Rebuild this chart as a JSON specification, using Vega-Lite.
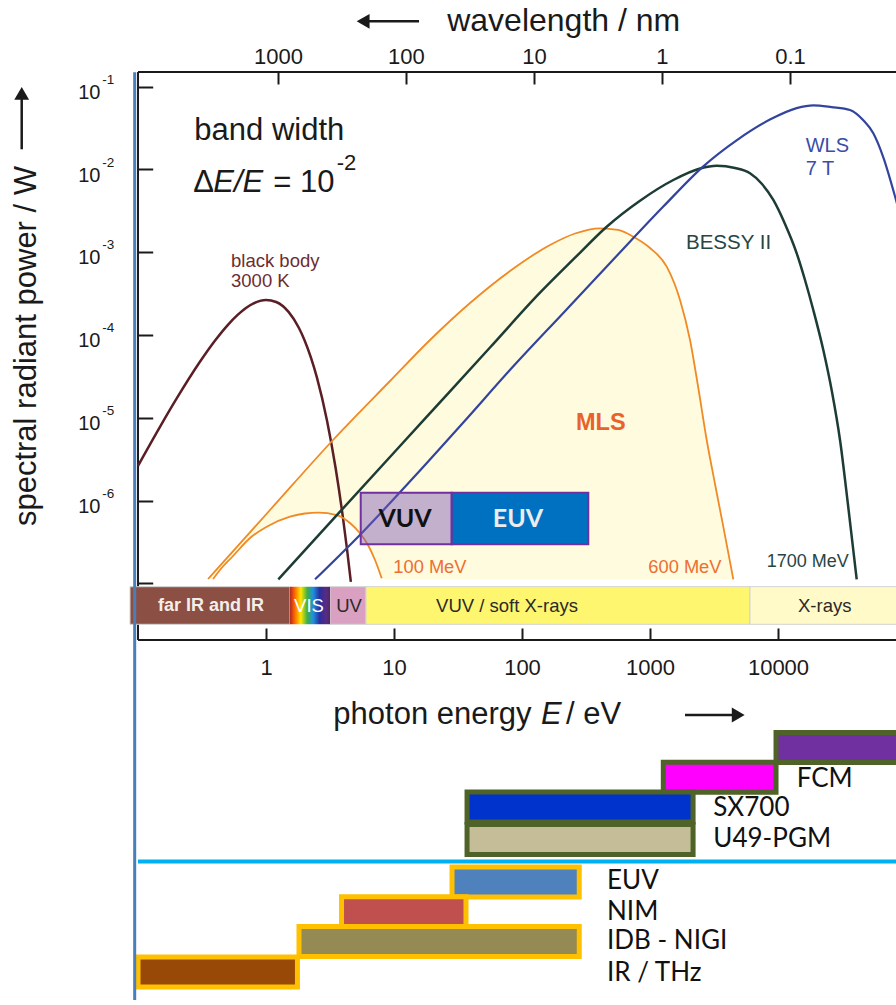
{
  "$schema": "https://vega.github.io/schema/vega-lite/v6.json",
  "width": 896,
  "height": 1005,
  "autosize": {"type": "fit", "contains": "padding"},
  "padding": 0,
  "background": "white",
  "config": {
    "view": {"stroke": null},
    "font": "Liberation Sans",
    "axis": {"labelFont": "Liberation Sans", "titleFont": "Liberation Sans"}
  },
  "datasets": {
    "blackbody": [
      {"E": 0.1, "P": 2.63e-6}, {"E": 0.15, "P": 7.99e-6}, {"E": 0.2, "P": 1.70e-5},
      {"E": 0.3, "P": 4.585e-5}, {"E": 0.4, "P": 8.58e-5}, {"E": 0.5, "P": 1.31e-4},
      {"E": 0.6, "P": 1.75e-4}, {"E": 0.8, "P": 2.411e-4}, {"E": 1.0, "P": 2.647e-4},
      {"E": 1.2, "P": 2.503e-4}, {"E": 1.5, "P": 1.901e-4}, {"E": 1.8, "P": 1.233e-4},
      {"E": 2.0, "P": 8.66e-5}, {"E": 2.5, "P": 3.057e-5}, {"E": 3.0, "P": 9.165e-6},
      {"E": 3.5, "P": 2.452e-6}, {"E": 4.0, "P": 6.05e-7}, {"E": 4.3, "P": 2.53e-7},
      {"E": 4.6, "P": 1.04e-7}
    ],
    "mls600": [
      {"E": 0.3523, "P": 1.128e-7}, {"E": 1.0746, "P": 7.687e-7}, {"E": 3.337, "P": 5.389e-6},
      {"E": 9.307, "P": 2.782e-5}, {"E": 19.11, "P": 8.703e-5}, {"E": 39.26, "P": 2.435e-4},
      {"E": 80.61, "P": 5.933e-4}, {"E": 165.5, "P": 1.223e-3}, {"E": 259.5, "P": 1.684e-3},
      {"E": 406.7, "P": 1.946e-3}, {"E": 562.3, "P": 1.857e-3}, {"E": 740.5, "P": 1.541e-3},
      {"E": 1000, "P": 1.125e-3}, {"E": 1351, "P": 6.687e-4}, {"E": 1716, "P": 2.649e-4},
      {"E": 2054, "P": 8.703e-5}, {"E": 2371, "P": 2.42e-5}, {"E": 2773, "P": 5.389e-6},
      {"E": 3220, "P": 1.585e-6}, {"E": 3738, "P": 4.831e-7}, {"E": 4476, "P": 1.118e-7}
    ],
    "mls100": [
      {"E": 0.3855, "P": 1.128e-7}, {"E": 0.4532, "P": 1.553e-7}, {"E": 0.5524, "P": 2.138e-7},
      {"E": 0.7499, "P": 3.527e-7}, {"E": 1.0127, "P": 4.831e-7}, {"E": 1.54, "P": 6.38e-7},
      {"E": 2.017, "P": 6.975e-7}, {"E": 2.563, "P": 7.133e-7}, {"E": 3.567, "P": 6.688e-7},
      {"E": 4.531, "P": 5.356e-7}, {"E": 5.425, "P": 4.02e-7}, {"E": 6.264, "P": 2.904e-7},
      {"E": 7.106, "P": 1.913e-7}, {"E": 8.014, "P": 1.15e-7}
    ],
    "bessy": [
      {"E": 1.248, "P": 1.118e-7}, {"E": 3.786, "P": 7.332e-7}, {"E": 11.14, "P": 4.56e-6},
      {"E": 27.38, "P": 2.089e-5}, {"E": 56.23, "P": 7.066e-5}, {"E": 138.2, "P": 3.245e-4},
      {"E": 259.5, "P": 8.59e-4}, {"E": 458.9, "P": 2.035e-3}, {"E": 835.5, "P": 4.195e-3},
      {"E": 1521, "P": 7.461e-3}, {"E": 2459, "P": 1.027e-2}, {"E": 3320, "P": 1.11e-2},
      {"E": 4614, "P": 1.042e-2}, {"E": 6043, "P": 8.989e-3}, {"E": 7499, "P": 6.676e-3},
      {"E": 9190, "P": 4.277e-3}, {"E": 11340, "P": 2.194e-3}, {"E": 14000, "P": 9.71e-4},
      {"E": 16250, "P": 4.62e-4}, {"E": 18870, "P": 2.006e-4}, {"E": 22590, "P": 6.589e-5},
      {"E": 26420, "P": 2.049e-5}, {"E": 30510, "P": 5.389e-6}, {"E": 35240, "P": 8.834e-7},
      {"E": 41190, "P": 1.118e-7}
    ],
    "wls": [
      {"E": 2.415, "P": 1.118e-7}, {"E": 5.757, "P": 4.24e-7}, {"E": 14.15, "P": 1.883e-6},
      {"E": 34.78, "P": 8.77e-6}, {"E": 85.51, "P": 4.188e-5}, {"E": 210.2, "P": 1.85e-4},
      {"E": 516.8, "P": 8.172e-4}, {"E": 1270, "P": 3.56e-3}, {"E": 2609, "P": 1.092e-2},
      {"E": 4748, "P": 2.251e-2}, {"E": 8646, "P": 4.004e-2}, {"E": 13970, "P": 5.513e-2},
      {"E": 18870, "P": 5.961e-2}, {"E": 26230, "P": 5.668e-2}, {"E": 36520, "P": 5.228e-2},
      {"E": 46390, "P": 3.928e-2}, {"E": 55530, "P": 2.735e-2}, {"E": 66470, "P": 1.403e-2},
      {"E": 83530, "P": 4.277e-3}, {"E": 98740, "P": 1.615e-3}
    ],
    "regions": [
      {"region": "far IR and IR", "E": 0.0866, "E2": 1.54, "P": 9.104e-8, "P2": 3.198e-8},
      {"region": "UV", "E": 3.162, "E2": 6.04, "P": 9.104e-8, "P2": 3.198e-8},
      {"region": "VUV / soft X-rays", "E": 6.04, "E2": 6043, "P": 9.104e-8, "P2": 3.198e-8},
      {"region": "X-rays", "E": 6043, "E2": 200000, "P": 9.104e-8, "P2": 3.198e-8}
    ],
    "beamlines": [
      {"beamline": "hard X-ray", "facility": "BESSY II", "E": 9650, "E2": 200000, "row": 0},
      {"beamline": "FCM", "facility": "BESSY II", "E": 1270, "E2": 9650, "row": 1},
      {"beamline": "SX700", "facility": "BESSY II", "E": 37.2, "E2": 2170, "row": 2},
      {"beamline": "U49-PGM", "facility": "BESSY II", "E": 37.2, "E2": 2170, "row": 3.1},
      {"beamline": "EUV", "facility": "MLS", "E": 28.4, "E2": 280, "row": 4.53},
      {"beamline": "NIM", "facility": "MLS", "E": 3.89, "E2": 36.5, "row": 5.53},
      {"beamline": "IDB - NIGI", "facility": "MLS", "E": 1.81, "E2": 280, "row": 6.53},
      {"beamline": "IR / THz", "facility": "MLS", "E": 0.1, "E2": 1.76, "row": 7.56}
    ]
  },
  "layer": [
    {
      "encoding": {
        "x": {"field": "E", "type": "quantitative", "scale": {"type": "log", "domain": [0.008351, 83527], "nice": false}, "axis": null},
        "y": {"field": "P", "type": "quantitative", "scale": {"type": "log", "domain": [8.043e-13, 1.1154], "nice": false}, "axis": null}
      },
      "resolve": {"axis": {"x": "independent", "y": "independent"}},
      "layer": [
        {
          "data": {"name": "mls600"},
          "mark": {"type": "area", "interpolate": "monotone", "color": "#FFFBDE"},
          "encoding": {
            "x": {
              "field": "E", "type": "quantitative",
              "scale": {"type": "log", "domain": [0.008351, 83527], "nice": false},
              "axis": {
                "orient": "bottom", "offset": -365, "values": [1, 10, 100, 1000, 10000], "format": "d",
                "domain": false, "grid": false, "ticks": true, "tickSize": -12, "tickWidth": 2, "tickColor": "#1a1a1a",
                "labelFontSize": 22, "labelColor": "#1a1a1a", "labelBaseline": "alphabetic", "labelPadding": 46,
                "labelFlush": false, "labelOverlap": false, "title": null
              }
            },
            "y": {
              "field": "P", "type": "quantitative",
              "scale": {"type": "log", "domain": [8.043e-13, 1.1154], "nice": false},
              "axis": {
                "orient": "left", "offset": -137.7, "values": [0.1, 0.01, 0.001, 0.0001, 0.00001, 0.000001, 0.0000001],
                "labelExpr": "datum.value < 5e-7 ? '' : '10'",
                "domain": false, "grid": false, "ticks": true, "tickSize": -15, "tickWidth": 2, "tickColor": "#1a1a1a",
                "labelFontSize": 20, "labelColor": "#1a1a1a", "labelAlign": "right", "labelBaseline": "alphabetic",
                "labelOffset": 11.6, "labelPadding": 52.7, "labelFlush": false, "labelOverlap": false,
                "title": "spectral radiant power / W", "titleFontSize": 31, "titleFontWeight": "normal", "titleColor": "#1a1a1a",
                "titleAngle": 270, "titleAlign": "center", "titleBaseline": "middle", "titleX": -111.7, "titleY": 345.5
              }
            },
            "y2": {"datum": 1.118e-7}
          }
        },
        {
          "data": {"name": "mls100"},
          "mark": {"type": "area", "interpolate": "monotone", "color": "white"},
          "encoding": {
            "x": {
              "field": "E", "type": "quantitative",
              "scale": {"type": "log", "domain": [0.008351, 83527], "nice": false},
              "axis": {
                "orient": "top", "offset": -72, "values": [1.23984, 12.3984, 123.984, 1239.84, 12398.4],
                "labelExpr": "format(1239.84 / datum.value, '.2~r')",
                "domain": false, "grid": false, "ticks": true, "tickSize": -12, "tickWidth": 2, "tickColor": "#1a1a1a",
                "labelFontSize": 22, "labelColor": "#1a1a1a", "labelBaseline": "alphabetic", "labelPadding": 20.7,
                "labelFlush": false, "labelOverlap": false,
                "title": "wavelength / nm", "titleFontSize": 32, "titleFontWeight": "normal", "titleColor": "#1a1a1a",
                "titleAlign": "left", "titleBaseline": "alphabetic", "titleX": 446.7, "titleY": -41.3
              }
            },
            "y": {
              "field": "P", "type": "quantitative",
              "scale": {"type": "log", "domain": [8.043e-13, 1.1154], "nice": false},
              "axis": {
                "orient": "left", "offset": -137.7, "values": [0.1, 0.01, 0.001, 0.0001, 0.00001, 0.000001],
                "labelExpr": "'-' + format(-round(log(datum.value) / LN10), 'd')",
                "domain": false, "grid": false, "ticks": false,
                "labelFontSize": 13.5, "labelColor": "#1a1a1a", "labelAlign": "left", "labelBaseline": "alphabetic",
                "labelOffset": -3.4, "labelPadding": 36, "labelFlush": false, "labelOverlap": false, "title": null
              }
            },
            "y2": {"datum": 1.118e-7}
          }
        },
        {
          "data": {"values": [
            {"E": 0.1, "E2": 200000, "P": 0.1505, "P2": 0.1505},
            {"E": 0.1, "E2": 0.1, "P": 0.1505, "P2": 2.066e-8},
            {"E": 0.1, "E2": 200000, "P": 2.066e-8, "P2": 2.066e-8}
          ]},
          "mark": {"type": "rule", "color": "#1a1a1a", "strokeWidth": 2, "clip": true},
          "encoding": {"x2": {"field": "E2"}, "y2": {"field": "P2"}}
        },
        {
          "data": {"values": [{"P": 0.1}, {"P": 0.01}, {"P": 0.001}, {"P": 0.0001}, {"P": 0.00001}, {"P": 0.000001}, {"P": 0.0000001}]},
          "mark": {"type": "rule", "color": "#1a1a1a", "strokeWidth": 2, "clip": true},
          "encoding": {
            "x": {"datum": 74990, "type": "quantitative", "scale": {"type": "log", "domain": [0.008351, 83527], "nice": false}, "axis": null},
            "x2": {"datum": 100000}
          }
        },
        {
          "data": {"name": "regions"},
          "mark": {"type": "rect", "stroke": "#d2d2d2", "strokeWidth": 1, "clip": true},
          "encoding": {
            "x2": {"field": "E2"},
            "y2": {"field": "P2"},
            "color": {
              "field": "region", "type": "nominal", "legend": null,
              "scale": {"domain": ["far IR and IR", "UV", "VUV / soft X-rays", "X-rays"], "range": ["#8B5043", "#D9A0C2", "#FFF670", "#FFFAC8"]}
            }
          }
        },
        {
          "data": {"values": [{"region": "VIS", "E": 1.54, "E2": 3.162, "P": 9.104e-8, "P2": 3.198e-8}]},
          "mark": {
            "type": "rect",
            "fill": {
              "gradient": "linear", "x1": 0, "x2": 1, "y1": 0, "y2": 0,
              "stops": [
                {"offset": 0, "color": "#B3261E"}, {"offset": 0.12, "color": "#FF6A00"},
                {"offset": 0.27, "color": "#FFE800"}, {"offset": 0.43, "color": "#3DB04A"},
                {"offset": 0.58, "color": "#1E8FE0"}, {"offset": 0.74, "color": "#2A2F9C"},
                {"offset": 0.9, "color": "#5A2A85"}, {"offset": 1, "color": "#4A2C5A"}
              ]
            }
          },
          "encoding": {"x2": {"field": "E2"}, "y2": {"field": "P2"}}
        },
        {
          "data": {"values": [{"label": "far IR and IR", "E": 0.3717, "P": 5.321e-8}]},
          "mark": {"type": "text", "font": "Liberation Sans", "fontSize": 18, "fontWeight": "bold", "color": "#F4EEEA", "align": "center", "baseline": "middle"},
          "encoding": {"text": {"field": "label"}}
        },
        {
          "data": {"values": [{"label": "VIS", "E": 2.167, "P": 5.321e-8}]},
          "mark": {"type": "text", "font": "Liberation Sans", "fontSize": 18.5, "color": "white", "align": "center", "baseline": "middle"},
          "encoding": {"text": {"field": "label"}}
        },
        {
          "data": {"values": [
            {"label": "UV", "E": 4.451, "P": 5.321e-8},
            {"label": "VUV / soft X-rays", "E": 76.35, "P": 5.321e-8},
            {"label": "X-rays", "E": 23160, "P": 5.321e-8}
          ]},
          "mark": {"type": "text", "font": "Liberation Sans", "fontSize": 18.5, "color": "#2a2a2a", "align": "center", "baseline": "middle"},
          "encoding": {"text": {"field": "label"}}
        },
        {
          "data": {"name": "blackbody"},
          "mark": {"type": "line", "interpolate": "monotone", "color": "#5A1E24", "strokeWidth": 2.5}
        },
        {
          "data": {"name": "mls600"},
          "mark": {"type": "line", "interpolate": "monotone", "color": "#F08A24", "strokeWidth": 1.8}
        },
        {
          "data": {"name": "mls100"},
          "mark": {"type": "line", "interpolate": "monotone", "color": "#F08A24", "strokeWidth": 1.8}
        },
        {
          "data": {"name": "bessy"},
          "mark": {"type": "line", "interpolate": "monotone", "color": "#1D3C36", "strokeWidth": 2.5}
        },
        {
          "data": {"name": "wls"},
          "mark": {"type": "line", "interpolate": "monotone", "color": "#33449E", "strokeWidth": 2.2, "clip": true}
        },
        {
          "data": {"values": [{"E": 5.495, "E2": 28.23, "P": 1.244e-6, "P2": 2.96e-7}]},
          "mark": {"type": "rect", "fill": "#7A55B8", "fillOpacity": 0.45, "stroke": "#7030A0", "strokeWidth": 2},
          "encoding": {"x2": {"field": "E2"}, "y2": {"field": "P2"}}
        },
        {
          "data": {"values": [{"E": 28.23, "E2": 329.6, "P": 1.244e-6, "P2": 2.96e-7}]},
          "mark": {"type": "rect", "fill": "#0070C0", "stroke": "#7030A0", "strokeWidth": 2},
          "encoding": {"x2": {"field": "E2"}, "y2": {"field": "P2"}}
        },
        {
          "data": {"values": [{"label": "VUV", "E": 12.19, "P": 5.936e-7}]},
          "mark": {"type": "text", "font": "Lato", "fontSize": 25, "fontWeight": "bold", "color": "#111111", "align": "center", "baseline": "middle"},
          "encoding": {"text": {"field": "label"}}
        },
        {
          "data": {"values": [{"label": "EUV", "E": 93.06, "P": 5.936e-7}]},
          "mark": {"type": "text", "font": "Lato", "fontSize": 25, "fontWeight": "bold", "color": "#ECECEC", "align": "center", "baseline": "middle"},
          "encoding": {"text": {"field": "label"}}
        },
        {
          "data": {"values": [
            {"label": "band width", "E": 0.2754, "P": 0.0227},
            {"label": "Δ", "E": 0.2704, "P": 0.005387},
            {"label": "= 10", "E": 1.14, "P": 0.005387}
          ]},
          "mark": {"type": "text", "font": "Liberation Sans", "fontSize": 31, "color": "#1a1a1a", "align": "left", "baseline": "alphabetic"},
          "encoding": {"text": {"field": "label"}}
        },
        {
          "data": {"values": [{"label": "E/E", "E": 0.3876, "P": 0.005387}]},
          "mark": {"type": "text", "font": "Liberation Sans", "fontSize": 31, "fontStyle": "italic", "color": "#1a1a1a", "align": "left", "baseline": "alphabetic"},
          "encoding": {"text": {"field": "label"}}
        },
        {
          "data": {"values": [{"label": "-2", "E": 3.567, "P": 0.009854}]},
          "mark": {"type": "text", "font": "Liberation Sans", "fontSize": 22, "color": "#1a1a1a", "align": "left", "baseline": "alphabetic"},
          "encoding": {"text": {"field": "label"}}
        },
        {
          "data": {"values": [
            {"label": "black body", "E": 0.5329, "P": 0.0006689},
            {"label": "3000 K", "E": 0.5329, "P": 0.0003834}
          ]},
          "mark": {"type": "text", "font": "Liberation Sans", "fontSize": 18.5, "color": "#6B2D33", "align": "left", "baseline": "alphabetic"},
          "encoding": {"text": {"field": "label"}}
        },
        {
          "data": {"values": [
            {"label": "WLS", "E": 16460, "P": 0.01639},
            {"label": "7 T", "E": 16460, "P": 0.008574}
          ]},
          "mark": {"type": "text", "font": "Liberation Sans", "fontSize": 20, "color": "#3A4DA8", "align": "left", "baseline": "alphabetic"},
          "encoding": {"text": {"field": "label"}}
        },
        {
          "data": {"values": [
            {"label": "BESSY II", "E": 1911, "P": 0.001085, "size": 20.5},
            {"label": "1700 MeV", "E": 8160, "P": 1.588e-7, "size": 18}
          ]},
          "mark": {"type": "text", "font": "Liberation Sans", "color": "#28463F", "align": "left", "baseline": "alphabetic"},
          "encoding": {"text": {"field": "label"}, "size": {"field": "size", "type": "quantitative", "scale": null}}
        },
        {
          "data": {"values": [{"label": "MLS", "E": 264.1, "P": 7.115e-6}]},
          "mark": {"type": "text", "font": "Liberation Sans", "fontSize": 23.5, "fontWeight": "bold", "color": "#E8632B", "align": "left", "baseline": "alphabetic"},
          "encoding": {"text": {"field": "label"}}
        },
        {
          "data": {"values": [
            {"label": "100 MeV", "E": 9.874, "P": 1.322e-7},
            {"label": "600 MeV", "E": 969.9, "P": 1.322e-7}
          ]},
          "mark": {"type": "text", "font": "Liberation Sans", "fontSize": 18.3, "color": "#EC6F33", "align": "left", "baseline": "alphabetic"},
          "encoding": {"text": {"field": "label"}}
        },
        {
          "data": {"values": [
            {"label": "photon energy", "E": 3.356, "P": 1.997e-9},
            {"label": "/ eV", "E": 220.7, "P": 1.997e-9}
          ]},
          "mark": {"type": "text", "font": "Liberation Sans", "fontSize": 31, "color": "#1a1a1a", "align": "left", "baseline": "alphabetic"},
          "encoding": {"text": {"field": "label"}}
        },
        {
          "data": {"values": [{"label": "E", "E": 140.7, "P": 1.997e-9}]},
          "mark": {"type": "text", "font": "Liberation Sans", "fontSize": 31, "fontStyle": "italic", "color": "#1a1a1a", "align": "left", "baseline": "alphabetic"},
          "encoding": {"text": {"field": "label"}}
        },
        {
          "data": {"values": [
            {"E": 5.7, "E2": 15.68, "P": 0.6166, "P2": 0.6166},
            {"E": 1877, "E2": 4870, "P": 2.564e-9, "P2": 2.564e-9},
            {"E": 0.01234, "E2": 0.01234, "P": 0.01753, "P2": 0.07935}
          ]},
          "mark": {"type": "rule", "color": "#1a1a1a", "strokeWidth": 2.5},
          "encoding": {"x2": {"field": "E2"}, "y2": {"field": "P2"}}
        },
        {
          "data": {"values": [
            {"E": 5.736, "P": 0.6166, "dir": "left"},
            {"E": 4888, "P": 2.564e-9, "dir": "right"},
            {"E": 0.01234, "P": 0.08299, "dir": "up"}
          ]},
          "mark": {"type": "point", "filled": true, "size": 220, "color": "#1a1a1a", "opacity": 1},
          "encoding": {
            "shape": {"field": "dir", "type": "nominal", "legend": null,
              "scale": {"domain": ["left", "right", "up"], "range": ["triangle-left", "triangle-right", "triangle-up"]}}
          }
        }
      ]
    },
    {
      "encoding": {
        "x": {"field": "E", "type": "quantitative", "scale": {"type": "log", "domain": [0.008351, 83527], "nice": false}, "axis": null},
        "y": {"field": "row", "type": "quantitative", "scale": {"domain": [-25, 8.5], "reverse": true, "nice": false, "zero": false}, "axis": null}
      },
      "layer": [
        {
          "data": {"name": "beamlines"},
          "mark": {"type": "bar", "orient": "horizontal", "height": 30, "strokeWidth": 5, "clip": true},
          "encoding": {
            "x2": {"field": "E2"},
            "color": {
              "field": "beamline", "type": "nominal", "legend": null,
              "scale": {
                "domain": ["hard X-ray", "FCM", "SX700", "U49-PGM", "EUV", "NIM", "IDB - NIGI", "IR / THz"],
                "range": ["#7030A0", "#FF00FF", "#0033CC", "#C4BD97", "#4F81BD", "#C0504D", "#948A54", "#984807"]
              }
            },
            "stroke": {
              "field": "facility", "type": "nominal", "legend": null,
              "scale": {"domain": ["BESSY II", "MLS"], "range": ["#4F6228", "#FFC000"]}
            }
          }
        },
        {
          "data": {"values": [
            {"label": "FCM", "E": 14000, "row": 1.05},
            {"label": "SX700", "E": 3124, "row": 2.03},
            {"label": "U49-PGM", "E": 3124, "row": 3.07},
            {"label": "EUV", "E": 461.4, "row": 4.5},
            {"label": "NIM", "E": 461.4, "row": 5.53},
            {"label": "IDB - NIGI", "E": 461.4, "row": 6.53},
            {"label": "IR / THz", "E": 461.4, "row": 7.6}
          ]},
          "mark": {"type": "text", "font": "Lato", "fontSize": 26, "color": "#111111", "align": "left", "baseline": "middle"},
          "encoding": {"text": {"field": "label"}}
        },
        {
          "data": {"values": [{"E": 0.1, "E2": 200000, "row": 3.833}]},
          "mark": {"type": "rule", "color": "#00B0F0", "strokeWidth": 4, "clip": true},
          "encoding": {"x2": {"field": "E2"}}
        },
        {
          "data": {"values": [{"E": 0.0942, "row": -22.733, "row2": 8.5}]},
          "mark": {"type": "rule", "color": "#4A7EBB", "strokeWidth": 3},
          "encoding": {"y2": {"field": "row2"}}
        }
      ]
    }
  ],
  "resolve": {
    "scale": {"y": "independent", "color": "independent", "stroke": "independent", "shape": "independent"},
    "axis": {"x": "independent", "y": "independent"}
  }
}
